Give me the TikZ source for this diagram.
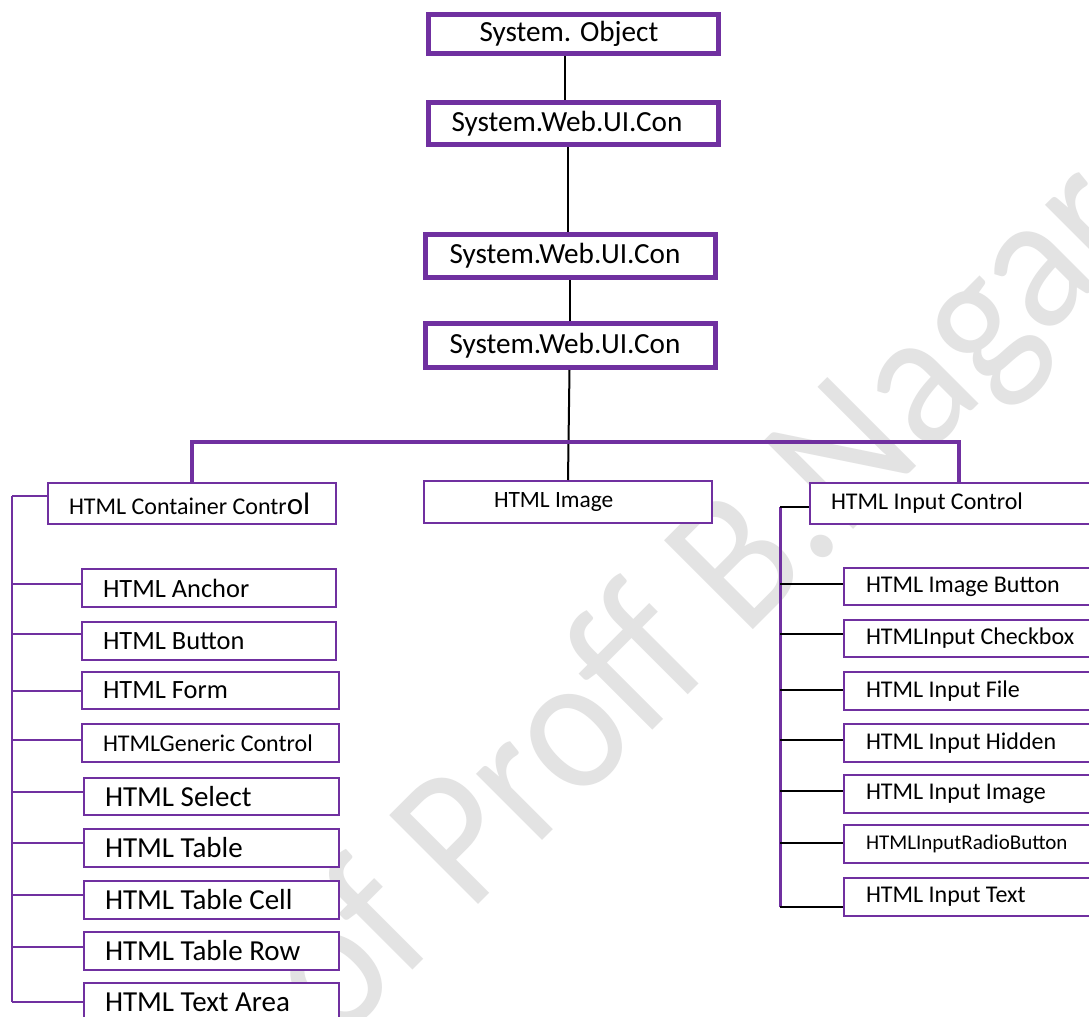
\documentclass[tikz,border=0pt]{standalone}
\usepackage{fontspec}
\setmainfont{Carlito}
\usetikzlibrary{calc}
\definecolor{purp}{HTML}{7030A0}
\begin{document}
\begin{tikzpicture}[x=0.5pt,y=-0.5pt,
  topbox/.style={draw=purp, fill=white, line width=2.5pt, anchor=north west, inner xsep=0pt,
    inner ysep=0pt, align=flush left, font=\fontsize{14.6}{16}\selectfont},
  sub/.style={draw=purp, fill=white, line width=1pt, anchor=north west, inner xsep=0pt,
    inner ysep=0pt, align=flush left},
  link/.style={black, line width=1pt},
  bar/.style={purp, line width=2pt},
  ltrunk/.style={purp, line width=1.3pt},
  lstub/.style={purp, line width=1pt},
  rtrunk/.style={purp, line width=1.5pt},
  fs/.style={font=\fontsize{#1}{#1}\selectfont}]
\clip (0,0) rectangle (1089,1017);
\fill[white] (0,0) rectangle (1089,1017);

% faint watermark across the page, behind everything
\node[rotate=45, anchor=base, text=gray!22, inner sep=0pt, font=\fontsize{89}{89}\selectfont] (wm) at (742,641)
  {\scalebox{1}[1.1]{of Proff B.Nagar}};

% chain of base classes
\node[topbox, text width=145pt, minimum height=19.5pt] (obj) at (426,12) {\hspace*{25.5pt}System. Object};
\node[topbox, text width=145pt, minimum height=21pt] (c1) at (426,100) {\hspace*{11.5pt}System.Web.UI.Con};
\node[topbox, text width=145pt, minimum height=21.5pt] (c2) at (423,232) {\hspace*{12pt}System.Web.UI.Con};
\node[topbox, text width=145pt, minimum height=22pt] (c3) at (423,321) {\hspace*{12pt}System.Web.UI.Con};

\draw[link] ([xshift=-4.5pt]obj.south) -- ([xshift=-4.5pt]c1.north);
\draw[link] ([xshift=-3pt]c1.south) -- ([xshift=-1.5pt]c2.north);
\draw[link] ([xshift=-0.5pt]c2.south) -- ([xshift=-0.5pt]c3.north);

% second level
\node[sub, text width=144pt, minimum height=20.5pt] (hcc) at (47,482)
  {\hspace*{10.5pt}{\fontsize{12}{14}\selectfont HTML Container Contr}{\fontsize{15.5}{16}\selectfont ol}};
\node[sub, fs=11.7, text width=144pt, minimum height=21pt] (img) at (423,480) {\hspace*{35pt}HTML Image};
\node[sub, fs=12, text width=149pt, minimum height=20.5pt] (hic) at (809,482) {\hspace*{10.5pt}HTML Input Control};

\draw[link] ([xshift=-0.5pt]c3.south) -- (img.north);
\draw[bar] (hcc.north) -- ++(0,-40) -| (hic.north);

% container controls
\node[sub, fs=13.2, text width=127pt, minimum height=19pt] (anc) at (81,568) {\hspace*{10.5pt}HTML Anchor};
\node[sub, fs=13.2, text width=127pt, minimum height=19pt] (btn) at (81,621) {\hspace*{10.5pt}HTML Button};
\node[sub, fs=13.2, text width=128.5pt, minimum height=18.5pt] (frm) at (81,671) {\hspace*{10.5pt}HTML Form};
\node[sub, fs=12, text width=128.5pt, minimum height=19pt] (gen) at (81,723) {\hspace*{10.5pt}HTMLGeneric Control};
\node[sub, fs=14.5, text width=127.5pt, minimum height=18.5pt] (sel) at (83,777) {\hspace*{10.5pt}HTML Select};
\node[sub, fs=14.5, text width=127.5pt, minimum height=19pt] (tbl) at (83,828) {\hspace*{10.5pt}HTML Table};
\node[sub, fs=14.5, text width=127.5pt, minimum height=19pt] (tcell) at (83,880) {\hspace*{10.5pt}HTML Table Cell};
\node[sub, fs=14.5, text width=127.5pt, minimum height=19pt] (trow) at (83,931) {\hspace*{10.5pt}HTML Table Row};
\node[sub, fs=14.5, text width=127.5pt, minimum height=19pt] (tarea) at (83,982) {\hspace*{10.5pt}HTML Text Area};

\coordinate (ltop) at (12,496);
\coordinate (lbot) at (12,1002);
\draw[ltrunk] (ltop) -- (lbot);
\draw[lstub] (ltop) -- (ltop -| hcc.west);
\foreach \n/\d in {anc/4, btn/7, frm/0, gen/3, sel/5, tbl/5, tcell/5, trow/4, tarea/0}
  \draw[lstub] ($(\n.west -| ltop)+(0,-\d)$) -- ($(\n.west)+(0,-\d)$);

% input controls
\node[sub, fs=12, text width=128.5pt, minimum height=18.5pt] (ibtn) at (843,567) {\hspace*{11pt}HTML Image Button};
\node[sub, fs=12, text width=128.5pt, minimum height=18.5pt] (chk) at (843,619) {\hspace*{11pt}HTMLInput Checkbox};
\node[sub, fs=12, text width=128.5pt, minimum height=19pt] (ifile) at (843,671) {\hspace*{11pt}HTML Input File};
\node[sub, fs=12, text width=128.5pt, minimum height=19pt] (ihid) at (843,723) {\hspace*{11pt}HTML Input Hidden};
\node[sub, fs=12, text width=128.5pt, minimum height=19pt] (iimg) at (843,774) {\hspace*{11pt}HTML Input Image};
\node[sub, fs=10.5, text width=128.5pt, minimum height=19pt] (rad) at (843,824) {\hspace*{11pt}HTMLInputRadioButton};
\node[sub, fs=12, text width=128.5pt, minimum height=19pt] (itxt) at (843,877) {\hspace*{11pt}HTML Input Text};

\coordinate (rtop) at (780,507);
\coordinate (rbot) at (780,907);
\draw[rtrunk] (rtop) -- (rbot);
\draw[link] (rtop) -- (rtop -| hic.west);
\foreach \n/\d in {ibtn/2.5, chk/4.5, ifile/1, ihid/3, iimg/3, rad/1}
  \draw[link] ($(\n.west -| rtop)+(0,-\d)$) -- ($(\n.west)+(0,-\d)$);
\draw[link] (rbot) -- (rbot -| itxt.west);
\end{tikzpicture}
\end{document}
